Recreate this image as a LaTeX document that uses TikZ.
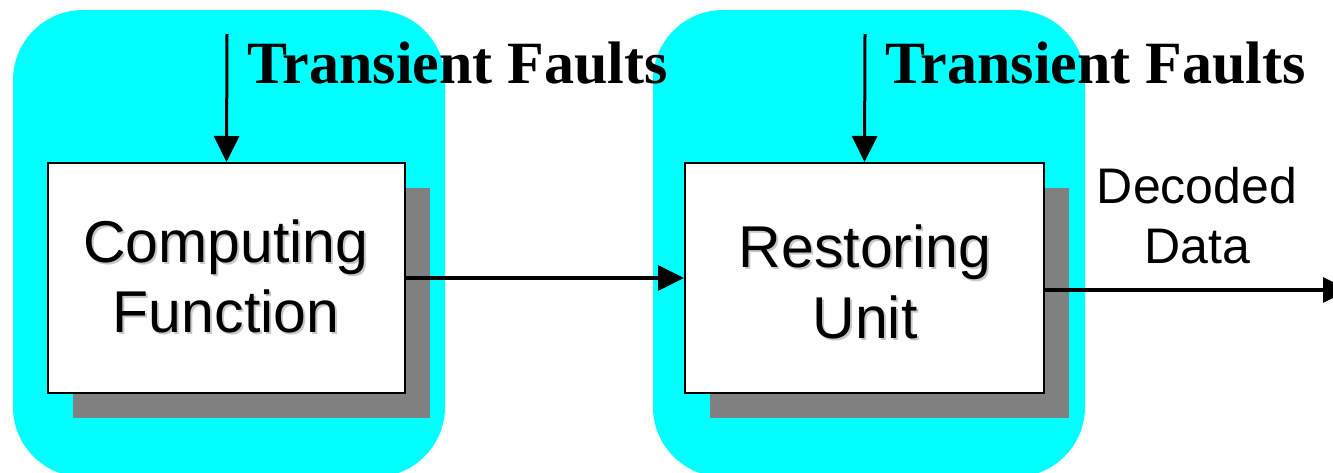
\documentclass[tikz,border=0pt]{standalone}
\usepackage{fontspec}
\setmainfont{Liberation Serif}
\setsansfont{Liberation Sans}
\usetikzlibrary{arrows.meta,shadows}
\definecolor{zonecyan}{HTML}{00FFFF}
\definecolor{shadowgray}{HTML}{808080}
\definecolor{textshade}{HTML}{C8C8C8}
\tikzset{
  zone/.style={fill=zonecyan, draw=none, rounded corners=70pt, minimum width=432pt, minimum height=467pt, inner sep=0pt},
  block/.style={draw=black, line width=2pt, fill=white, minimum width=357pt, minimum height=230pt, inner sep=0pt,
    drop shadow={shadow xshift=25pt, shadow yshift=-25pt, fill=shadowgray, opacity=1}},
  faultlabel/.style={font=\bfseries\fontsize{60}{60}\selectfont, anchor=base west, inner sep=0pt},
  blocktext/.style={font=\sffamily\fontsize{59}{59}\selectfont, anchor=base, inner sep=0pt},
  blockshade/.style={blocktext, text=textshade},
  outlabel/.style={font=\sffamily\fontsize{50}{50}\selectfont, anchor=base, inner sep=0pt},
  flow/.style={line width=3.5pt, arrows={-Triangle[length=26pt,width=25pt]}},
}
\begin{document}
\begin{tikzpicture}[x=1pt, y=-1pt]
  \useasboundingbox (0,0) rectangle (1333,472);
  \clip (0,0) rectangle (1333,472);

  % cyan stage zones
  \node[zone] (zone1) at (229,243.5) {};
  \node[zone] (zone2) at (869,243.5) {};

  % processing blocks with drop shadows
  \node[block] (comp) at (226.5,278) {};
  \node[block, minimum width=359pt] (rest) at (864.5,278) {};

  % block captions with a soft text shadow
  \node[blockshade] (c1s) at (228,264) {Computing};
  \node[blocktext]  (c1)  at (226,262) {Computing};
  \node[blockshade] (c2s) at (228,334) {Function};
  \node[blocktext]  (c2)  at (226,332) {Function};
  \node[blockshade] (r1s) at (867,269) {Restoring};
  \node[blocktext]  (r1)  at (865,267) {Restoring};
  \node[blockshade] (r2s) at (867,340) {Unit};
  \node[blocktext]  (r2)  at (865,338) {Unit};

  % fault injection labels and arrows
  \coordinate (f1) at (227,34);
  \coordinate (f2) at (865,34);
  \node[faultlabel] (t1) at (247,83) {Transient Faults};
  \node[faultlabel] (t2) at (885,83) {Transient Faults};
  \draw[flow, line width=3pt] (f1) -- (comp.north);
  \draw[flow, line width=3pt] (f2) -- (rest.north);

  % data path; the output arrow runs off the right edge
  \draw[flow] (comp.east) -- (rest.west);
  \coordinate (outstart) at ([yshift=-12pt]rest.east);
  \coordinate (outend) at (1349,290);
  \draw[flow] (outstart) -- (outend);
  \node[outlabel] (d1) at (1197,203) {Decoded};
  \node[outlabel] (d2) at (1197,263) {Data};
\end{tikzpicture}
\end{document}
